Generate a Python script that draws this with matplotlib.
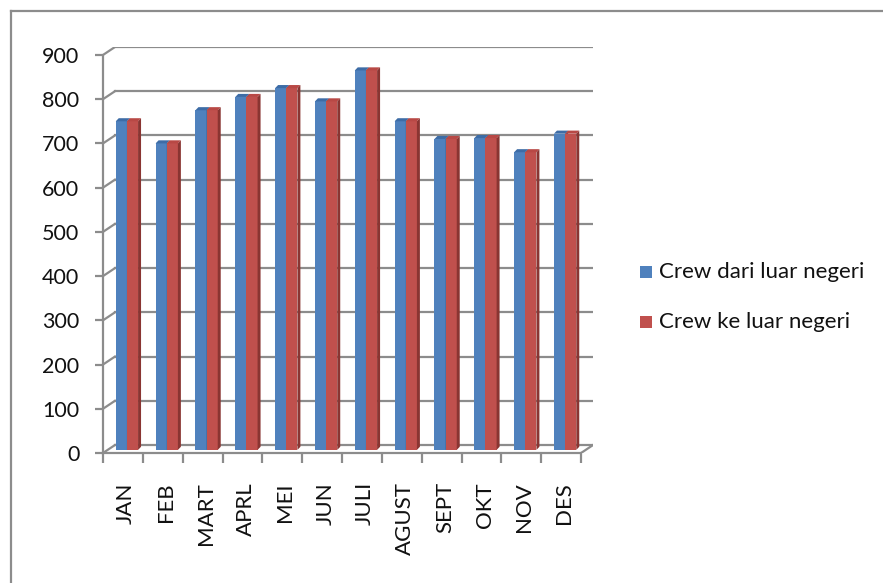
import numpy as np
import matplotlib.pyplot as plt
from matplotlib.patches import Polygon, Rectangle
from matplotlib.lines import Line2D

months = ['JAN', 'FEB', 'MART', 'APRL', 'MEI', 'JUN', 'JULI', 'AGUST', 'SEPT', 'OKT', 'NOV', 'DES']
crew_dari = [750, 700, 775, 805, 825, 795, 865, 750, 710, 712, 680, 722]
crew_ke = [750, 700, 775, 805, 825, 795, 865, 750, 710, 712, 680, 722]
series_names = ['Crew dari luar negeri', 'Crew ke luar negeri']
y_ticks = [0, 100, 200, 300, 400, 500, 600, 700, 800, 900]

plt.rcParams['font.family'] = ['Lato', 'DejaVu Sans']

BLUE, BLUE_TOP, BLUE_SIDE = '#4F81BD', '#3D6CA6', '#365F91'
RED, RED_TOP, RED_SIDE = '#C0504D', '#B84845', '#8A3532'
GRID = '#8C8C8C'

# fake 3D: wall depth (x in categories, y in value units) and bar depth
wall_dx, wall_dy = 0.3, 18
bar_dx, bar_dy = 0.075, 7
bar_shift_x, bar_shift_y = 0.1, 7
bar_w = 0.28

fig = plt.figure(figsize=(8.83, 5.83), dpi=100)
ax = fig.add_axes([103 / 883, (583 - 453) / 583, (593 - 103) / 883, (453 - 47) / 583])
n = len(months)
ax.set_xlim(-0.5, n - 0.5 + wall_dx)
ax.set_ylim(0, 900 + wall_dy)

# back wall gridlines + left wall slants
for v in y_ticks:
    ax.plot([-0.5 + wall_dx, n - 0.5 + wall_dx], [v + wall_dy, v + wall_dy], color=GRID, lw=1.6, zorder=1)
    ax.plot([-0.5, -0.5 + wall_dx], [v, v + wall_dy], color=GRID, lw=1.6, zorder=1)
# floor right edge
ax.plot([n - 0.5, n - 0.5 + wall_dx], [0, wall_dy], color=GRID, lw=1.6, zorder=1)


def draw_bar(x0, h, front, top, side, z):
    y0 = bar_shift_y
    ax.bar(x0, h, width=bar_w, bottom=y0, align='edge', color=front, lw=0, zorder=z)
    ax.add_patch(Polygon([(x0, y0 + h), (x0 + bar_w, y0 + h),
                          (x0 + bar_w + bar_dx, y0 + h + bar_dy), (x0 + bar_dx, y0 + h + bar_dy)],
                         closed=True, facecolor=top, lw=0, zorder=z))
    ax.add_patch(Polygon([(x0 + bar_w, y0), (x0 + bar_w + bar_dx, y0 + bar_dy),
                          (x0 + bar_w + bar_dx, y0 + h + bar_dy), (x0 + bar_w, y0 + h)],
                         closed=True, facecolor=side, lw=0, zorder=z))


for i in range(n):
    c = i + bar_shift_x
    draw_bar(c - bar_w, crew_dari[i] - bar_shift_y, BLUE, BLUE_TOP, BLUE_SIDE, 3)
    draw_bar(c, crew_ke[i] - bar_shift_y, RED, RED_TOP, RED_SIDE, 4)

for s in ['top', 'right']:
    ax.spines[s].set_visible(False)
ax.spines['left'].set_bounds(0, 900)
ax.spines['bottom'].set_bounds(-0.5, n - 0.5)
for s in ['left', 'bottom']:
    ax.spines[s].set_color(GRID)
    ax.spines[s].set_linewidth(1.6)
    ax.spines[s].set_zorder(5)

ax.set_yticks(y_ticks)
ax.set_yticklabels([str(v) for v in y_ticks], fontsize=15.5, color='#111111')
ax.tick_params(axis='y', length=6, width=1.6, color=GRID, pad=11)

ax.set_xticks(np.arange(n) + 0.08)
ax.set_xticklabels(months, rotation=90, fontsize=16, va='top', color='#111111')
ax.set_xticks(np.arange(n + 1) - 0.5, minor=True)
ax.tick_params(axis='x', which='major', length=0, pad=21)
ax.tick_params(axis='x', which='minor', length=7, width=1.6, color=GRID)

# legend
for k, (name, col) in enumerate(zip(series_names, [BLUE, RED])):
    ypos = 1 - (272 + 50 * k) / 583
    fig.patches.append(Rectangle((640 / 883, ypos - 6 / 583), 12 / 883, 12 / 583,
                                 transform=fig.transFigure, facecolor=col, lw=0))
    fig.text(659 / 883, ypos, name, fontsize=16, va='center', ha='left', color='#111111')

# chart border (top and left edges only)
top_y = 1 - 11 / 583
left_x = 11 / 883
fig.lines.append(Line2D([left_x, 1], [top_y, top_y], transform=fig.transFigure, color=GRID, lw=1.6))
fig.lines.append(Line2D([left_x, left_x], [0, top_y], transform=fig.transFigure, color=GRID, lw=1.6))

fig.savefig('out.png', dpi=100)
